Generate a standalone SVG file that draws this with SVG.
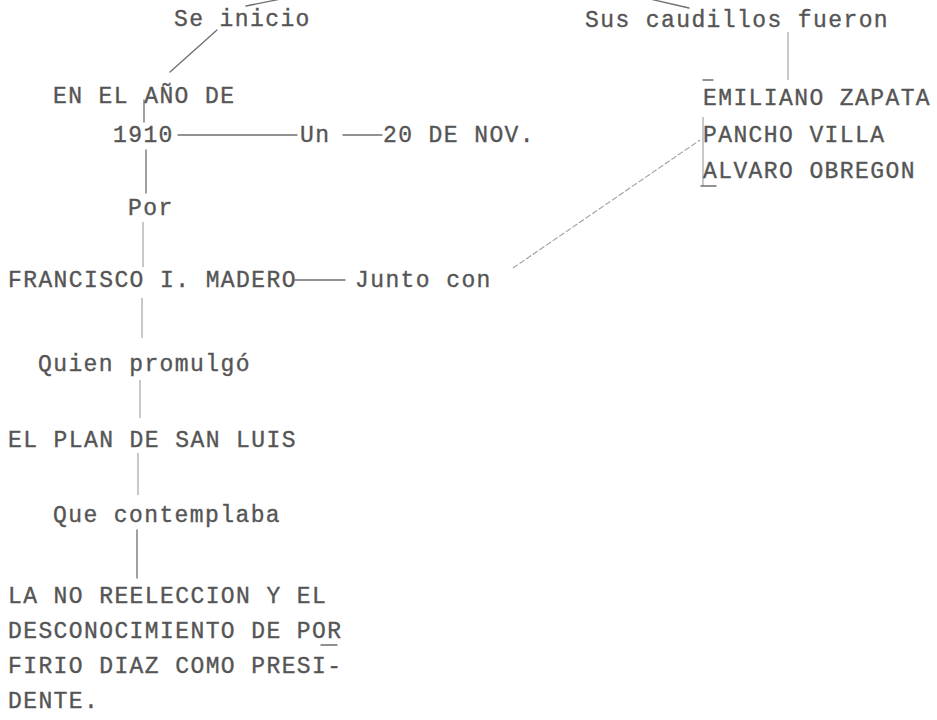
<svg xmlns="http://www.w3.org/2000/svg" width="937" height="720" viewBox="0 0 937 720">
<style>
  .t { font-family: "Liberation Mono", "DejaVu Sans Mono", monospace; font-size: 23px; letter-spacing: 1.4px; fill: #555555; stroke: #555555; stroke-width: 0.35; }
  .c { stroke: #6e6e6e; stroke-width: 1.3; fill: none; stroke-linecap: round; }
  .f { stroke: #9a9a9a; stroke-width: 1.1; fill: none; }
  .d { stroke: #a0a0a0; stroke-width: 1.1; fill: none; stroke-dasharray: 6 2; }
</style>
<rect width="937" height="720" fill="#ffffff"/>
<g id="connectors">
  <line class="c" x1="246" y1="6" x2="281" y2="-1"/>
  <line class="c" x1="650" y1="-1" x2="689" y2="8"/>
  <line class="c" x1="217" y1="30" x2="170" y2="72"/>
  <line class="c" x1="144" y1="100" x2="144" y2="122"/>
  <line class="c" x1="178" y1="135" x2="297" y2="135"/>
  <line class="c" x1="343" y1="135" x2="382" y2="135"/>
  <line class="c" x1="146" y1="150" x2="146" y2="193"/>
  <line class="f" x1="143" y1="222" x2="143" y2="267"/>
  <line class="c" x1="295" y1="280" x2="345" y2="280"/>
  <line class="d" x1="513" y1="268" x2="700" y2="140"/>
  <line class="f" x1="142" y1="298" x2="142" y2="338"/>
  <line class="f" x1="140" y1="380" x2="140" y2="418"/>
  <line class="f" x1="138" y1="453" x2="138" y2="495"/>
  <line class="c" x1="137" y1="530" x2="137" y2="578"/>
  <line class="f" x1="788" y1="32" x2="788" y2="80"/>
  <line class="c" x1="703" y1="80" x2="713" y2="80"/>
  <line class="f" x1="703" y1="117" x2="703" y2="186"/>
  <line class="c" x1="701" y1="186" x2="716" y2="186"/>
  <line class="c" x1="321" y1="645" x2="337" y2="645"/>
</g>
<g id="n-se-inicio"><text class="t" x="174" y="26">Se inicio</text></g>
<g id="n-sus-caudillos"><text class="t" x="585" y="27">Sus caudillos fueron</text></g>
<g id="n-en-el-ano"><text class="t" x="53" y="103">EN EL AÑO DE</text></g>
<g id="n-1910"><text class="t" x="113" y="142">1910</text></g>
<g id="n-un"><text class="t" x="300" y="142">Un</text></g>
<g id="n-20-nov"><text class="t" x="383" y="142">20 DE NOV.</text></g>
<g id="n-caudillos">
  <text class="t" x="703" y="105">EMILIANO ZAPATA</text>
  <text class="t" x="703" y="142">PANCHO VILLA</text>
  <text class="t" x="703" y="178">ALVARO OBREGON</text>
</g>
<g id="n-por"><text class="t" x="128" y="215">Por</text></g>
<g id="n-madero"><text class="t" x="8" y="287">FRANCISCO I. MADERO</text></g>
<g id="n-junto"><text class="t" x="355" y="287">Junto con</text></g>
<g id="n-quien"><text class="t" x="38" y="371">Quien promulgó</text></g>
<g id="n-plan"><text class="t" x="8" y="447">EL PLAN DE SAN LUIS</text></g>
<g id="n-que"><text class="t" x="53" y="522">Que contemplaba</text></g>
<g id="n-reeleccion">
  <text class="t" x="8" y="603">LA NO REELECCION Y EL</text>
  <text class="t" x="8" y="638">DESCONOCIMIENTO DE POR</text>
  <text class="t" x="8" y="673">FIRIO DIAZ COMO PRESI-</text>
  <text class="t" x="8" y="708">DENTE.</text>
</g>
</svg>
